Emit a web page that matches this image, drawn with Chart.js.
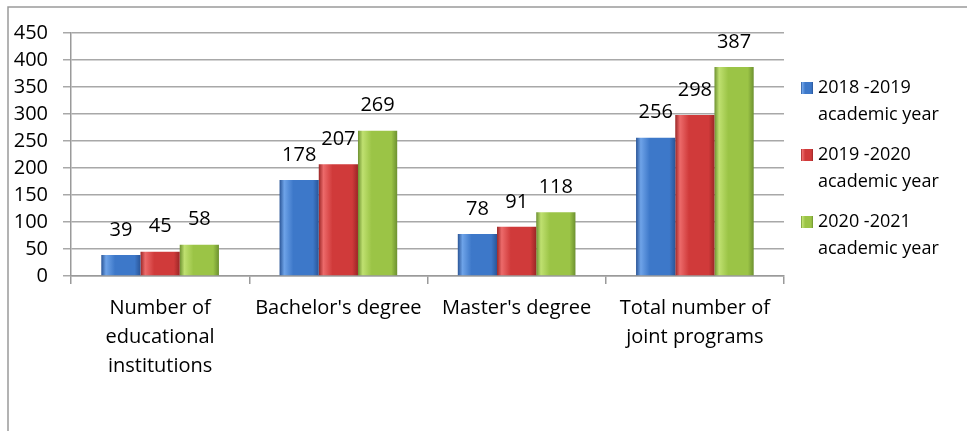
<!DOCTYPE html>
<html>
<head>
<meta charset="utf-8">
<script src="https://cdn.jsdelivr.net/npm/chart.js@4/dist/chart.umd.min.js"></script>
<style>
  html, body { margin: 0; padding: 0; background: #fff; }
  #wrap { width: 967px; height: 431px; position: relative; }
</style>
</head>
<body>
<div id="wrap"><canvas id="grafico"></canvas></div>
<script>
// data
var categorias = [
  ['Number of', 'educational', 'institutions'],
  "Bachelor's degree",
  "Master's degree",
  ['Total number of', 'joint programs']
];
var series = [
  ['2018 -2019', 'academic year'],
  ['2019 -2020', 'academic year'],
  ['2020 -2021', 'academic year']
];
var datos2018 = [39, 178, 78, 256];
var datos2019 = [45, 207, 91, 298];
var datos2020 = [58, 269, 118, 387];
var ticksY = [0, 50, 100, 150, 200, 250, 300, 350, 400, 450];

var FUENTE = "'Open Sans', 'Liberation Sans', sans-serif";
var CAT_PCT = 0.66;

// colores: oscuro, claro, base
var colores = [
  ['#2a5597', '#6ea3e8', '#3d78c9'],
  ['#9b2626', '#ec6a6a', '#d03a3a'],
  ['#6d9130', '#bfe070', '#9bc446']
];

function degradado(chart, x0, w, c) {
  var g = chart.ctx.createLinearGradient(x0, 0, x0 + w, 0);
  g.addColorStop(0, c[0]);
  g.addColorStop(0.12, c[1]);
  g.addColorStop(0.35, c[2]);
  g.addColorStop(0.85, c[2]);
  g.addColorStop(1, c[0]);
  return g;
}

function colorBarra(ctx) {
  var chart = ctx.chart;
  var c = colores[ctx.datasetIndex];
  var sx = chart.scales.x;
  if (!sx || ctx.dataIndex === undefined) return c[2];
  var anchoCat = sx.width / categorias.length;
  var w = anchoCat * CAT_PCT / series.length;
  var centro = sx.getPixelForValue(ctx.dataIndex) + (ctx.datasetIndex - 1) * w;
  if (!isFinite(centro) || !isFinite(w) || w <= 0) return c[2];
  return degradado(chart, centro - w / 2, w, c);
}

// marco exterior
var marco = {
  id: 'marco',
  beforeDraw: function (chart) {
    var ctx = chart.ctx;
    ctx.save();
    ctx.strokeStyle = '#9a9a9a';
    ctx.lineWidth = 1.5;
    ctx.beginPath();
    ctx.moveTo(8, chart.height);
    ctx.lineTo(8, 7);
    ctx.lineTo(chart.width, 7);
    ctx.stroke();
    ctx.restore();
  }
};

// etiquetas de valores
var etiquetas = {
  id: 'etiquetas',
  afterDatasetsDraw: function (chart) {
    var ctx = chart.ctx;
    ctx.save();
    ctx.font = '20px ' + FUENTE;
    ctx.fillStyle = '#000';
    ctx.textAlign = 'center';
    ctx.textBaseline = 'middle';
    chart.data.datasets.forEach(function (ds, i) {
      chart.getDatasetMeta(i).data.forEach(function (el, j) {
        ctx.fillText(ds.data[j], el.x, el.y - 25);
      });
    });
    ctx.restore();
  }
};

// leyenda a la derecha
var leyenda = {
  id: 'leyenda',
  afterDraw: function (chart) {
    var ctx = chart.ctx;
    ctx.save();
    ctx.font = '18px ' + FUENTE;
    ctx.textAlign = 'left';
    ctx.textBaseline = 'middle';
    series.forEach(function (lineas, i) {
      var y = 88 + i * 67;
      ctx.fillStyle = degradado(chart, 801, 12, colores[i]);
      ctx.fillRect(801, y - 6, 12, 12);
      ctx.fillStyle = '#000';
      lineas.forEach(function (t, k) {
        ctx.fillText(t, 818, y + k * 27);
      });
    });
    ctx.restore();
  }
};

var ctx = document.getElementById('grafico').getContext('2d');
var grafico = new Chart(ctx, {
  type: 'bar',
  data: {
    labels: categorias,
    datasets: [
      { label: series[0].join(' '), data: datos2018, backgroundColor: colorBarra },
      { label: series[1].join(' '), data: datos2019, backgroundColor: colorBarra },
      { label: series[2].join(' '), data: datos2020, backgroundColor: colorBarra }
    ]
  },
  options: {
    responsive: true,
    maintainAspectRatio: false,
    animation: false,
    layout: { padding: { left: 0, top: 33, right: 183, bottom: 0 } },
    datasets: {
      bar: {
        categoryPercentage: CAT_PCT,
        barPercentage: 1.0,
        borderWidth: 0
      }
    },
    plugins: {
      colors: { enabled: false },
      legend: { display: false },
      tooltip: { enabled: false }
    },
    scales: {
      x: {
        grid: {
          drawOnChartArea: false,
          drawTicks: true,
          tickLength: 8,
          color: '#9a9a9a',
          lineWidth: 1.5
        },
        border: { color: '#9a9a9a', width: 1.5 },
        ticks: {
          autoSkip: false,
          maxRotation: 0,
          padding: 10,
          color: '#000',
          font: { family: FUENTE, size: 20, lineHeight: 1.45 }
        },
        afterFit: function (s) { s.height = 431 - 276; }
      },
      y: {
        min: 0,
        max: 450,
        afterBuildTicks: function (s) {
          s.ticks = ticksY.map(function (v) { return { value: v }; });
        },
        grid: {
          color: '#a8a8a8',
          lineWidth: 1.5,
          tickLength: 8
        },
        border: { color: '#9a9a9a', width: 1.5 },
        ticks: {
          padding: 15,
          color: '#000',
          font: { family: FUENTE, size: 20 }
        },
        afterFit: function (s) { s.width = 71; }
      }
    }
  },
  plugins: [marco, etiquetas, leyenda]
});
</script>
</body>
</html>
